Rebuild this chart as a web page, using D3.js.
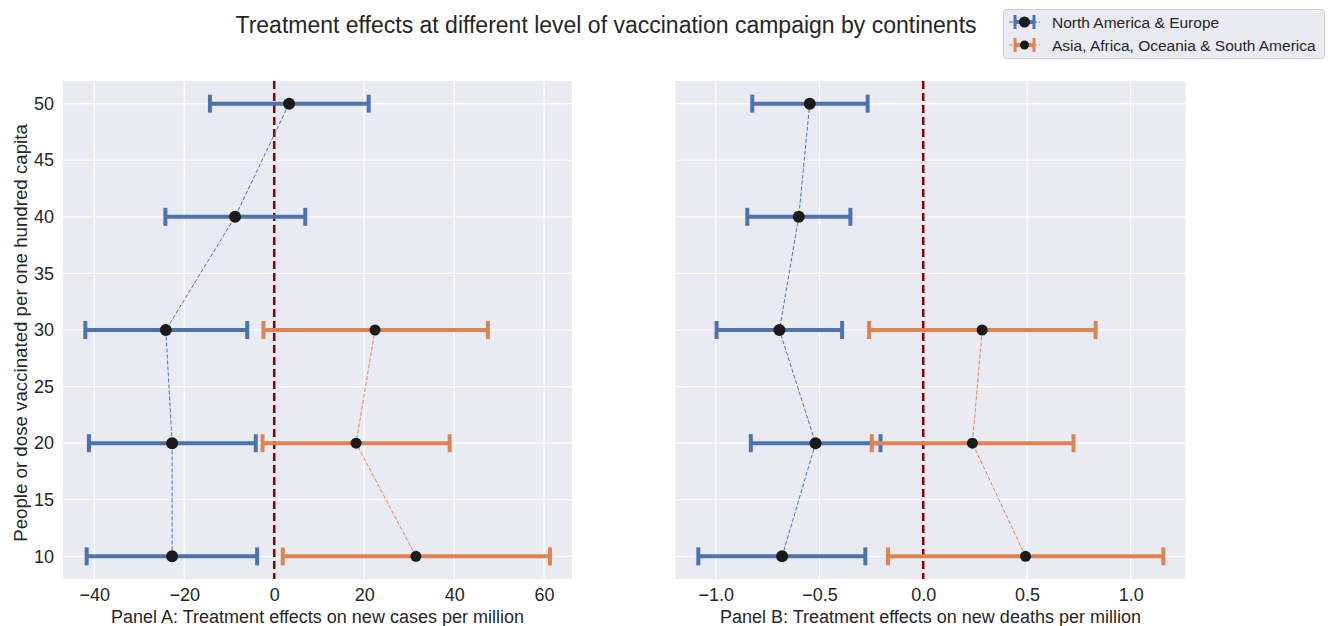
<!DOCTYPE html>
<html><head><meta charset="utf-8">
<script src="https://cdn.jsdelivr.net/npm/d3@7"></script>
<style>body{margin:0;background:#fff;font-family:"Liberation Sans",Arial,sans-serif;}</style>
</head><body><svg id="c" width="1335" height="626"></svg>
<script>
const levels = [10, 20, 30, 40, 50];
const yTicks = [10, 15, 20, 25, 30, 35, 40, 45, 50];
const xTicksA = [-40, -20, 0, 20, 40, 60];
const xTicksB = [-1.0, -0.5, 0.0, 0.5, 1.0];
const seriesNames = ["North America & Europe", "Asia, Africa, Oceania & South America"];
// Panel A: North America & Europe
const aBlueLevels = [10, 20, 30, 40, 50];
const aBlueEst = [-22.7, -22.7, -24.1, -8.7, 3.3];
const aBlueLo = [-41.7, -41.2, -42.0, -24.2, -14.3];
const aBlueHi = [-3.8, -4.1, -6.0, 6.9, 21.0];
// Panel A: Asia, Africa, Oceania & South America
const aOrLevels = [10, 20, 30];
const aOrEst = [31.5, 18.2, 22.4];
const aOrLo = [1.9, -2.6, -2.4];
const aOrHi = [61.3, 39.0, 47.5];
// Panel B: North America & Europe
const bBlueLevels = [10, 20, 30, 40, 50];
const bBlueEst = [-0.680, -0.519, -0.693, -0.600, -0.547];
const bBlueLo = [-1.084, -0.831, -0.996, -0.848, -0.824];
const bBlueHi = [-0.279, -0.206, -0.391, -0.351, -0.268];
// Panel B: Asia, Africa, Oceania & South America
const bOrLevels = [10, 20, 30];
const bOrEst = [0.493, 0.237, 0.284];
const bOrLo = [-0.170, -0.248, -0.261];
const bOrHi = [1.157, 0.724, 0.831];

const colors = ["#4c72b0", "#dd8452"];
const svg = d3.select("#c");
const font = '"Liberation Sans", Arial, sans-serif';

function zip(lv, est, lo, hi) { return lv.map((l, i) => ({y: l, x: est[i], lo: lo[i], hi: hi[i]})); }

function panel(left, right, xDomain, xTicks, fmt, label, series, showY) {
  const top = 81, bottom = 579;
  const x = d3.scaleLinear().domain(xDomain).range([left, right]);
  const y = d3.scaleLinear().domain([8, 52]).range([bottom, top]);
  const g = svg.append("g");
  g.append("rect").attr("x", left).attr("y", top).attr("width", right - left).attr("height", bottom - top).attr("fill", "#eaeaf2");
  g.selectAll(".gx").data(xTicks).join("line").attr("x1", d => x(d)).attr("x2", d => x(d)).attr("y1", top).attr("y2", bottom).attr("stroke", "#fff").attr("stroke-width", 1.2);
  g.selectAll(".gy").data(yTicks).join("line").attr("y1", d => y(d)).attr("y2", d => y(d)).attr("x1", left).attr("x2", right).attr("stroke", "#fff").attr("stroke-width", 1.2);
  const xa = g.append("g").attr("transform", `translate(0,${bottom})`).call(d3.axisBottom(x).tickValues(xTicks).tickFormat(fmt).tickSize(0).tickPadding(9));
  xa.select(".domain").remove();
  xa.selectAll("text").attr("font-family", font).attr("font-size", 18).attr("fill", "#262626");
  if (showY) {
    const ya = g.append("g").attr("transform", `translate(${left},0)`).call(d3.axisLeft(y).tickValues(yTicks).tickSize(0).tickPadding(9));
    ya.select(".domain").remove();
    ya.selectAll("text").attr("font-family", font).attr("font-size", 18).attr("fill", "#262626");
  }
  g.append("text").attr("x", (left + right) / 2).attr("y", 617).attr("text-anchor", "middle").attr("dominant-baseline", "central").attr("font-family", font).attr("font-size", 18).attr("fill", "#262626").text(label);
  // zero line
  g.append("line").attr("x1", x(0)).attr("x2", x(0)).attr("y1", top).attr("y2", bottom).attr("stroke", "#8b0000").attr("stroke-width", 2.5).attr("stroke-dasharray", "8,4");
  series.forEach((s, si) => {
    const c = colors[si];
    const line = d3.line().x(d => x(d.x)).y(d => y(d.y));
    g.append("path").datum(s).attr("d", line).attr("fill", "none").attr("stroke", c).attr("stroke-width", 1).attr("stroke-dasharray", "4,2");
    const eb = g.append("g");
    eb.selectAll(".bar").data(s).join("line").attr("x1", d => x(d.lo)).attr("x2", d => x(d.hi)).attr("y1", d => y(d.y)).attr("y2", d => y(d.y)).attr("stroke", c).attr("stroke-width", 4);
    ["lo", "hi"].forEach(k => {
      eb.selectAll(".cap" + k).data(s).join("line").attr("x1", d => x(d[k])).attr("x2", d => x(d[k])).attr("y1", d => y(d.y) - 9).attr("y2", d => y(d.y) + 9).attr("stroke", c).attr("stroke-width", 4);
    });
    eb.selectAll("circle").data(s).join("circle").attr("cx", d => x(d.x)).attr("cy", d => y(d.y)).attr("r", si === 0 ? 6 : 5.5).attr("fill", "#1a1a1a");
  });
}

panel(63, 572, [-46.96, 66.2], xTicksA, d3.format("d"), "Panel A: Treatment effects on new cases per million",
  [zip(aBlueLevels, aBlueEst, aBlueLo, aBlueHi), zip(aOrLevels, aOrEst, aOrLo, aOrHi)], true);
panel(675.5, 1185.5, [-1.194, 1.264], xTicksB, d3.format(".1f"), "Panel B: Treatment effects on new deaths per million",
  [zip(bBlueLevels, bBlueEst, bBlueLo, bBlueHi), zip(bOrLevels, bOrEst, bOrLo, bOrHi)], false);

// fix minus signs
svg.selectAll("text").each(function() { const t = d3.select(this); t.text(t.text().replace("-", "\u2212")); });

svg.append("text").attr("x", 20).attr("y", 333).attr("transform", "rotate(-90,20,333)").attr("text-anchor", "middle").attr("dominant-baseline", "central").attr("font-family", font).attr("font-size", 18.7).attr("fill", "#262626").text("People or dose vaccinated per one hundred capita");

svg.append("text").attr("x", 606).attr("y", 25).attr("text-anchor", "middle").attr("dominant-baseline", "central").attr("font-family", font).attr("font-size", 23).attr("fill", "#262626").text("Treatment effects at different level of vaccination campaign by continents");

// legend
const lg = svg.append("g");
lg.append("rect").attr("x", 1003.5).attr("y", 9.5).attr("width", 321).attr("height", 49).attr("rx", 3).attr("fill", "#eaeaf2").attr("stroke", "#d0d0d0").attr("stroke-width", 1);
seriesNames.forEach((n, i) => {
  const cy = 22 + i * 23;
  lg.append("line").attr("x1", 1009).attr("x2", 1040).attr("y1", cy).attr("y2", cy).attr("stroke", colors[i]).attr("stroke-width", 1).attr("stroke-dasharray", "4,2");
  lg.append("line").attr("x1", 1015).attr("x2", 1034).attr("y1", cy).attr("y2", cy).attr("stroke", colors[i]).attr("stroke-width", 4);
  [1015, 1034].forEach(xx => lg.append("line").attr("x1", xx).attr("x2", xx).attr("y1", cy - 7).attr("y2", cy + 7).attr("stroke", colors[i]).attr("stroke-width", 3));
  lg.append("circle").attr("cx", 1024.5).attr("cy", cy).attr("r", i === 0 ? 5.5 : 4.5).attr("fill", "#1a1a1a");
  lg.append("text").attr("x", 1052).attr("y", cy).attr("dominant-baseline", "central").attr("font-family", font).attr("font-size", 15.5).attr("fill", "#262626").text(n);
});
</script></body></html>
